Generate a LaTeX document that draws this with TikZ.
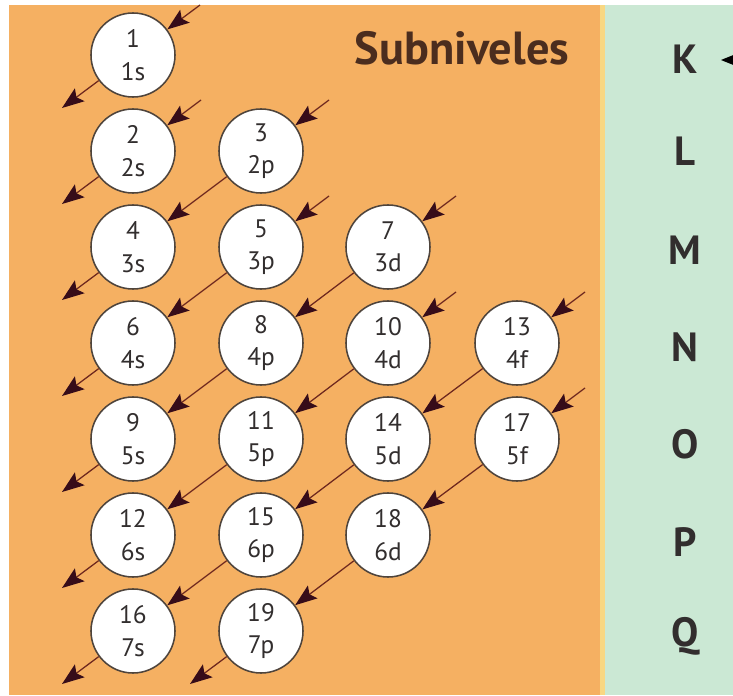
\documentclass[tikz,border=0pt]{standalone}
\usepackage{fontspec}
\setmainfont{PT Sans}
\usetikzlibrary{arrows.meta}

\definecolor{bgorange}{RGB}{245,176,98}
\definecolor{bggreen}{RGB}{203,232,212}
\definecolor{bgyellow}{RGB}{248,215,130}
\definecolor{ringgray}{RGB}{78,68,60}
\definecolor{arrowbrown}{RGB}{110,40,30}
\definecolor{tipdark}{RGB}{55,12,25}
\definecolor{textdark}{RGB}{50,46,46}
\definecolor{headbrown}{RGB}{75,45,30}

\tikzset{
  orbital/.style={draw=ringgray, line width=1.1pt, fill=white, circle,
    minimum size=2.1cm, inner sep=0pt, align=center, text=textdark,
    font=\fontsize{18}{23}\selectfont},
  order/.style={draw=arrowbrown, line width=0.9pt,
    -{Stealth[length=0.55cm, width=0.4cm, inset=0.1cm, color=tipdark]}},
  shell/.style={text=textdark, font=\bfseries\fontsize{29}{30}\selectfont}
}

\begin{document}
\begin{tikzpicture}[x=0.025cm, y=-0.025cm]
        \useasboundingbox (0,0) rectangle (733,696);
        % Backgrounds
        \fill[bgorange] (9,5) rectangle (603,695);
        \fill[bggreen] (603,5) rectangle (733,695);
        \fill[bgyellow] (600,5) rectangle (605,695);

        % Orbitals
        \node[orbital] (s1) at (133, 55) {1\\1s};
        \node[orbital] (s2) at (133,151) {2\\2s};
        \node[orbital] (p2) at (261,151) {3\\2p};
        \node[orbital] (s3) at (133,247) {4\\3s};
        \node[orbital] (p3) at (261,247) {5\\3p};
        \node[orbital] (d3) at (388,247) {7\\3d};
        \node[orbital] (s4) at (133,343) {6\\4s};
        \node[orbital] (p4) at (261,343) {8\\4p};
        \node[orbital] (d4) at (388,343) {10\\4d};
        \node[orbital] (f4) at (517,343) {13\\4f};
        \node[orbital] (s5) at (133,439) {9\\5s};
        \node[orbital] (p5) at (261,439) {11\\5p};
        \node[orbital] (d5) at (388,439) {14\\5d};
        \node[orbital] (f5) at (517,439) {17\\5f};
        \node[orbital] (s6) at (133,535) {12\\6s};
        \node[orbital] (p6) at (261,535) {15\\6p};
        \node[orbital] (d6) at (388,535) {18\\6d};
        \node[orbital] (s7) at (133,631) {16\\7s};
        \node[orbital] (p7) at (261,631) {19\\7p};

        % Diagonal ends
        \coordinate (in1) at (200,5);   \coordinate (out1) at (62,108);
        \coordinate (in2) at (201,100); \coordinate (out2) at (62,204);
        \coordinate (in3) at (329,100); \coordinate (out3) at (62,300);
        \coordinate (in4) at (329,196); \coordinate (out4) at (62,396);
        \coordinate (in5) at (456,196); \coordinate (out5) at (62,492);
        \coordinate (in6) at (456,292); \coordinate (out6) at (62,588);
        \coordinate (in7) at (585,292); \coordinate (out7) at (62,684);
        \coordinate (in8) at (585,388); \coordinate (out8) at (190,684);

        % Filling order
        \draw[order] (in1) -- (s1);
        \draw[order] (s1) -- (out1);
        \draw[order] (in2) -- (s2);
        \draw[order] (s2) -- (out2);
        \draw[order] (in3) -- (p2);
        \draw[order] (p2) -- (s3);
        \draw[order] (s3) -- (out3);
        \draw[order] (in4) -- (p3);
        \draw[order] (p3) -- (s4);
        \draw[order] (s4) -- (out4);
        \draw[order] (in5) -- (d3);
        \draw[order] (d3) -- (p4);
        \draw[order] (p4) -- (s5);
        \draw[order] (s5) -- (out5);
        \draw[order] (in6) -- (d4);
        \draw[order] (d4) -- (p5);
        \draw[order] (p5) -- (s6);
        \draw[order] (s6) -- (out6);
        \draw[order] (in7) -- (f4);
        \draw[order] (f4) -- (d5);
        \draw[order] (d5) -- (p6);
        \draw[order] (p6) -- (s7);
        \draw[order] (s7) -- (out7);
        \draw[order] (in8) -- (f5);
        \draw[order] (f5) -- (d6);
        \draw[order] (d6) -- (p7);
        \draw[order] (p7) -- (out8);

        % Shells
        \node[text=headbrown, font=\bfseries\fontsize{33}{34}\selectfont] (head) at (462,48) {Subniveles};
        \node[shell] (K) at (685,59) {K};
        \node[shell] (L) at (685,151) {L};
        \node[shell] (M) at (685,250) {M};
        \node[shell] (N) at (685,347) {N};
        \node[shell] (O) at (685,444) {O};
        \node[shell] (P) at (685,542) {P};
        \node[shell] (Q) at (685,636) {Q};
        \coordinate (kout) at (745,60);
        \coordinate (ktip) at (721,60);
        \draw[-{Stealth[length=0.45cm, width=0.36cm, inset=0.06cm]}, line width=0.9pt] (kout) -- (ktip);
    \end{tikzpicture}
\end{document}
